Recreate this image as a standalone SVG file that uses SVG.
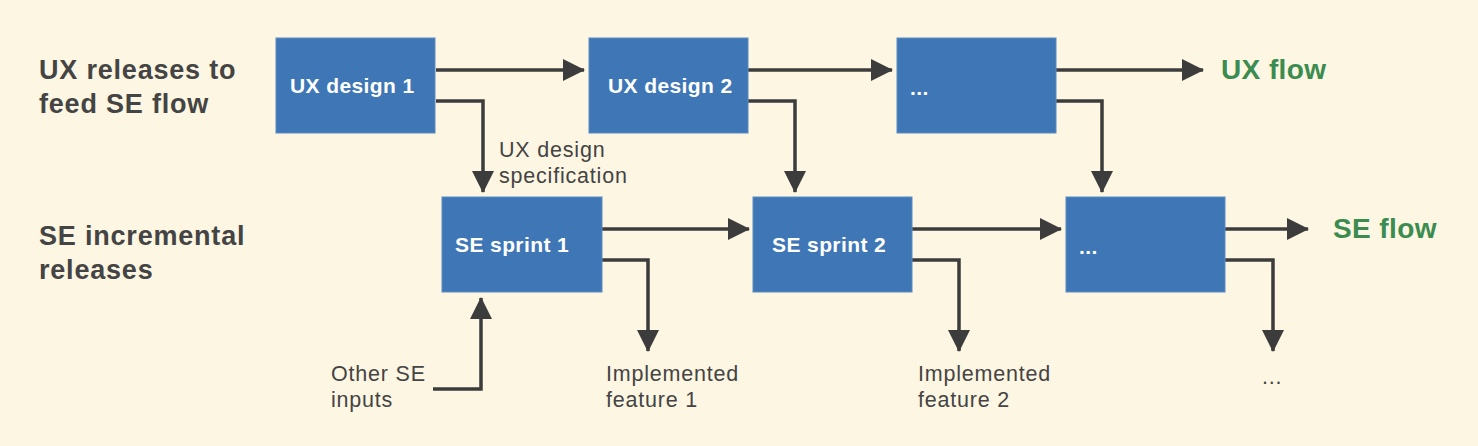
<svg xmlns="http://www.w3.org/2000/svg" width="1478" height="446" viewBox="0 0 1478 446">
<defs>
<style>
.bg{fill:#fdf6e2}
.box{fill:#3e76b6;stroke:#5a8cc4;stroke-width:1}
.bt{font-family:"Liberation Sans",Arial,sans-serif;font-weight:bold;font-size:21px;letter-spacing:0.4px;fill:#ffffff}
.lane{font-family:"Liberation Sans",Arial,sans-serif;font-weight:bold;font-size:27px;letter-spacing:0.8px;fill:#444444}
.flow{font-family:"Liberation Sans",Arial,sans-serif;font-weight:bold;font-size:28px;letter-spacing:0.4px;fill:#3b8c50}
.lbl{font-family:"Liberation Sans",Arial,sans-serif;font-size:21.5px;letter-spacing:0.8px;fill:#444444}
.c{fill:none;stroke:#3c3c3c;stroke-width:3.5;marker-end:url(#ah)}
</style>
<marker id="ah" markerUnits="userSpaceOnUse" markerWidth="22" markerHeight="22" refX="21" refY="11" orient="auto">
<path d="M0,0 L22,11 L0,22 z" fill="#3c3c3c"/>
</marker>
</defs>
<rect class="bg" x="0" y="0" width="1478" height="446"/>

<g id="lane-labels">
<text class="lane" x="39" y="79">UX releases to</text>
<text class="lane" x="39" y="113">feed SE flow</text>
<text class="lane" x="39" y="245">SE incremental</text>
<text class="lane" x="39" y="279">releases</text>
</g>

<g id="connectors">
<path class="c" d="M436,70 H584"/>
<path class="c" d="M436,101 H483 V192"/>
<path class="c" d="M748,70 H892"/>
<path class="c" d="M748,101 H795 V192"/>
<path class="c" d="M1056,70 H1203"/>
<path class="c" d="M1056,101 H1102 V192"/>
<path class="c" d="M602,229 H749"/>
<path class="c" d="M602,260 H648 V351"/>
<path class="c" d="M433,389 H481 V298"/>
<path class="c" d="M912,229 H1061"/>
<path class="c" d="M912,260 H959 V351"/>
<path class="c" d="M1225,229 H1308"/>
<path class="c" d="M1225,260 H1273 V351"/>
</g>

<g id="ux1"><rect class="box" x="276" y="38" width="159" height="95"/><text class="bt" x="290" y="93">UX design 1</text></g>
<g id="ux2"><rect class="box" x="589" y="38" width="159" height="95"/><text class="bt" x="608" y="93">UX design 2</text></g>
<g id="ux3"><rect class="box" x="897" y="38" width="159" height="95"/><text class="bt" x="910" y="95">...</text></g>
<g id="se1"><rect class="box" x="442" y="197" width="160" height="95"/><text class="bt" x="455" y="252">SE sprint 1</text></g>
<g id="se2"><rect class="box" x="753" y="197" width="159" height="95"/><text class="bt" x="772" y="252">SE sprint 2</text></g>
<g id="se3"><rect class="box" x="1066" y="197" width="159" height="95"/><text class="bt" x="1079" y="254">...</text></g>

<g id="ux-flow"><text class="flow" x="1221" y="79">UX flow</text></g>
<g id="se-flow"><text class="flow" x="1333" y="238">SE flow</text></g>

<g id="spec-label"><text class="lbl" x="499" y="157">UX design</text><text class="lbl" x="499" y="183">specification</text></g>
<g id="other-inputs"><text class="lbl" x="331" y="381">Other SE</text><text class="lbl" x="331" y="407">inputs</text></g>
<g id="feature1"><text class="lbl" x="606" y="381">Implemented</text><text class="lbl" x="606" y="407">feature 1</text></g>
<g id="feature2"><text class="lbl" x="918" y="381">Implemented</text><text class="lbl" x="918" y="407">feature 2</text></g>
<g id="more-out"><text class="lbl" x="1262" y="384">...</text></g>
</svg>
